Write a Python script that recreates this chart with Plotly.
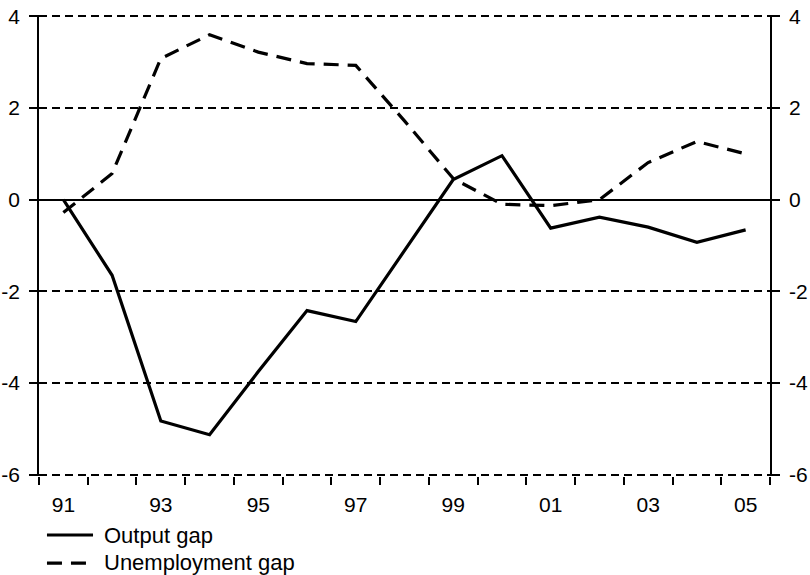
import plotly.graph_objects as go

years = list(range(1991, 2006))
output_gap = [0.0, -1.65, -4.83, -5.13, -3.75, -2.42, -2.66, -1.1, 0.44, 0.96,
              -0.62, -0.38, -0.6, -0.93, -0.66]
unemployment_gap = [-0.28, 0.57, 3.08, 3.6, 3.22, 2.97, 2.93, 1.72, 0.46, -0.1,
                    -0.13, 0.0, 0.81, 1.27, 1.0]
series_names = ["Output gap", "Unemployment gap"]

x_tickvals = years[::2]
x_ticktext = [str(y)[2:] for y in x_tickvals]
y_tickvals = [-6, -4, -2, 0, 2, 4]
y_ticktext = [str(v) for v in y_tickvals]

font = dict(family="Liberation Sans, Arial, sans-serif", size=21, color="black")
solid = dict(color="black", width=3.2)
dashed = dict(color="black", width=3.2, dash="15px,9px")

fig = go.Figure()
fig.add_trace(go.Scatter(
    x=years, y=output_gap, mode="lines", name=series_names[0],
    line=solid, yaxis="y",
))
# second series on the mirrored right-hand axis (same scale)
fig.add_trace(go.Scatter(
    x=years, y=unemployment_gap, mode="lines", name=series_names[1],
    line=dashed, yaxis="y2",
))

# legend drawn under the plot by hand, so it sits where the original has it
legend_rows = [(-0.128, -0.130, 0.0739, solid), (-0.189, -0.188, 0.0657, dashed)]
for name, (ly, ty, x1, style) in zip(series_names, legend_rows):
    fig.add_shape(type="line", xref="paper", yref="paper",
                  x0=0.0109, x1=x1, y0=ly, y1=ly, line=style)
    fig.add_annotation(text=name, xref="paper", yref="paper", x=0.0862, y=ty,
                       xanchor="left", yanchor="middle", showarrow=False,
                       font=dict(font, size=22))

# tiny padding so the edge gridlines at 4 and -6 are still drawn
yrange = [-6.03, 4.03]
yaxis_common = dict(
    range=yrange, tickvals=y_tickvals, ticktext=y_ticktext,
    ticks="outside", ticklen=8, tickwidth=1.5, tickcolor="black",
    ticklabelstandoff=5, automargin=False,
    showline=True, linecolor="black", linewidth=1.5,
    tickfont=font, fixedrange=True,
)

fig.update_layout(
    width=810, height=575,
    margin=dict(l=39, r=40, t=15, b=99),
    paper_bgcolor="white", plot_bgcolor="white",
    font=font,
    showlegend=False,
    xaxis=dict(
        range=[1990.5, 2005.5], tickvals=x_tickvals, ticktext=x_ticktext,
        ticks="outside", ticklen=8, tickcolor="rgba(0,0,0,0)",
        ticklabelstandoff=2, automargin=False,
        showline=False, showgrid=False, zeroline=False,
        minor=dict(tick0=1990.5, dtick=1, ticks="outside", ticklen=8,
                   tickwidth=1.5, tickcolor="black", showgrid=False),
        tickfont=font,
    ),
    yaxis=dict(
        **yaxis_common,
        showgrid=True, gridcolor="black", gridwidth=1.5, griddash="8px,5px",
        zeroline=True, zerolinecolor="black", zerolinewidth=1.8,
    ),
    yaxis2=dict(
        **yaxis_common,
        overlaying="y", side="right", showgrid=False, zeroline=False,
    ),
)

# drop the browser's default 8px body margin so the figure sits at 0,0
fig.write_html(
    "out.html",
    config={"displayModeBar": False},
    post_script="document.body.style.margin='0px';",
)
